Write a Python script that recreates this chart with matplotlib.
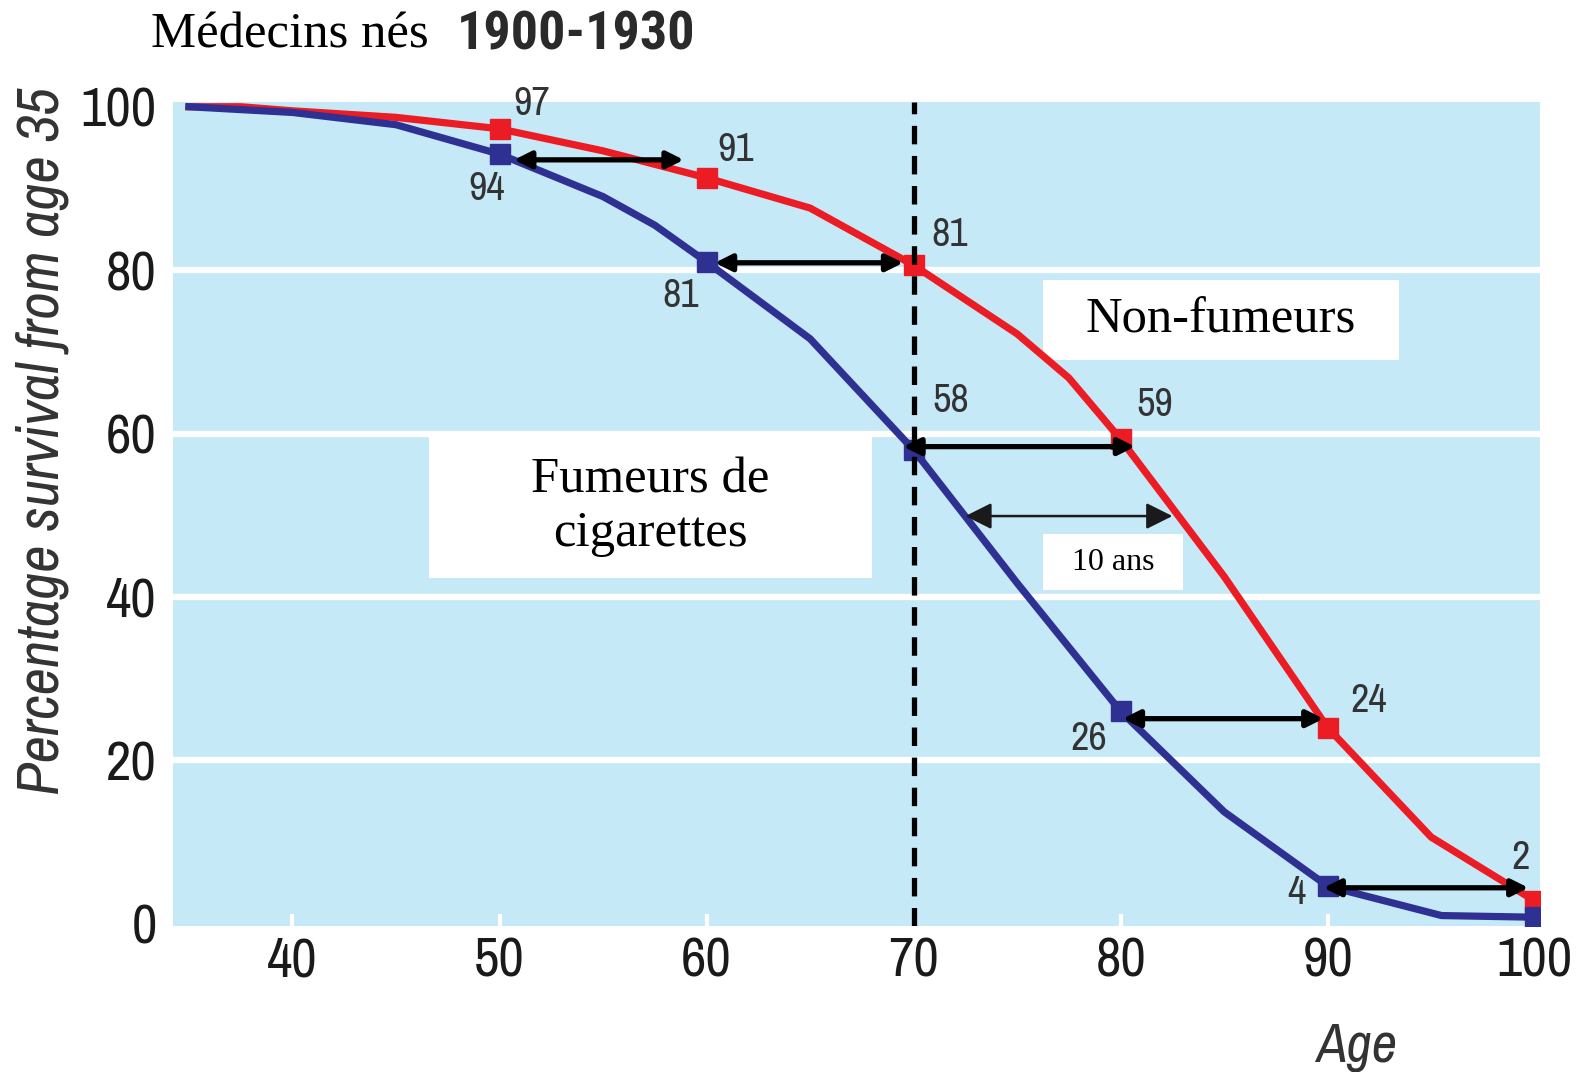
import matplotlib
matplotlib.use("Agg")
import matplotlib.pyplot as plt
from matplotlib.patches import Rectangle
from matplotlib import font_manager as fm

# ---- data ----
ages_nonsmokers = [35, 37.5, 40, 45, 50, 55, 60, 65, 70, 75, 77.5, 80, 85, 90, 95, 100]
surv_nonsmokers = [100, 100, 99.5, 98.7, 97.3, 94.6, 91.3, 87.6, 80.6, 72.2, 66.8, 59.3, 42.5, 24.0, 10.6, 2.8]
ages_smokers = [35, 40, 45, 50, 55, 57.5, 60, 65, 70, 75, 80, 85, 90, 95.5, 100]
surv_smokers = [100, 99.3, 97.8, 94.2, 89.0, 85.5, 81.0, 71.6, 58.0, 41.7, 26.0, 13.7, 4.6, 1.0, 0.8]

marker_ages = [50, 60, 70, 80, 90, 100]
marker_nonsmokers = [97.3, 91.3, 80.6, 59.3, 24.0, 2.8]
marker_smokers = [94.2, 81.0, 58.0, 26.0, 4.6, 0.8]

label_nonsmokers = ["97", "91", "81", "59", "24", "2"]
label_smokers = ["94", "81", "58", "26", "4", ""]

x_ticks = [40, 50, 60, 70, 80, 90, 100]
y_ticks = [0, 20, 40, 60, 80, 100]

# arrows (age_from, age_to, level)
arrows = [(50.7, 58.9, 93.5), (60.4, 69.5, 80.9), (69.5, 80.7, 58.4),
          (80.1, 89.8, 25.1), (89.8, 99.7, 4.4)]
arrow_10ans = (72.5, 82.5, 49.9)

RED = "#ec1c24"
BLUE = "#2e3192"
BG = "#c6e9f8"

ttf = fm.fontManager.ttflist
installed = {f.name for f in ttf}
narrow_candidates = ["Liberation Sans Narrow", "Archivo Narrow", "Roboto Condensed",
                     "PT Sans Narrow", "Pragati Narrow", "Fira Sans Condensed",
                     "IBM Plex Sans Condensed", "Liberation Sans"]
narrow = [n for n in narrow_candidates if n in installed] + ["DejaVu Sans"]
bold_ok = [n for n in narrow_candidates
           if any(f.name == n and isinstance(f.weight, int) and f.weight >= 600 for f in ttf)]
narrow_bold = bold_ok + ["DejaVu Sans"]
serif = ["Liberation Serif", "DejaVu Serif"]

fig = plt.figure(figsize=(15.81, 10.72), dpi=100)
ax = fig.add_axes([0.1097, 0.1364, 0.8643, 0.7686])
ax.set_facecolor(BG)
ax.set_xlim(34.25, 100.25)
ax.set_ylim(-0.25, 100.6)
for s in ax.spines.values():
    s.set_visible(False)

for yv in [20, 40, 60, 80]:
    ax.axhline(yv, color="white", lw=4.5, zorder=1)

ax.set_xticks(x_ticks)
ax.set_yticks(y_ticks)
ax.tick_params(axis="x", direction="in", length=9, width=3, color="white", pad=8)
ax.tick_params(axis="y", length=0, pad=12)
for lab in ax.get_xticklabels() + ax.get_yticklabels():
    lab.set_fontfamily(narrow)
    lab.set_fontsize(40)
    lab.set_color("#1a1a1a")

# boxes
boxes = [(76.24, 69.0, 17.19, 9.77), (46.58, 42.35, 21.42, 17.4), (76.24, 40.86, 6.77, 6.79)]
for (bx, by, bw, bh) in boxes:
    ax.add_patch(Rectangle((bx, by), bw, bh, facecolor="white", edgecolor="none", zorder=2))
ax.text(76.24 + 17.19 / 2, 69.0 + 9.77 / 2, "Non-fumeurs", ha="center", va="center",
        fontsize=36.5, family=serif, zorder=3)
ax.text(46.58 + 21.42 / 2, 42.35 + 17.4 / 2, "Fumeurs de\ncigarettes", ha="center", va="center",
        fontsize=36.5, family=serif, linespacing=1.2, zorder=3)
ax.text(76.24 + 6.77 / 2, 40.86 + 6.79 / 2, "10 ans", ha="center", va="center",
        fontsize=23, family=serif, zorder=3)

# curves
ax.plot(ages_nonsmokers, surv_nonsmokers, color=RED, lw=5.2, zorder=4, solid_joinstyle="round")
ax.plot(ages_smokers, surv_smokers, color=BLUE, lw=5.2, zorder=4, solid_joinstyle="round")
ax.plot(marker_ages, marker_nonsmokers, "s", color=RED, ms=15, zorder=5)
ax.plot(marker_ages, marker_smokers, "s", color=BLUE, ms=15, zorder=5)

# dashed line at 70
ax.axvline(70, color="black", lw=3.8, ls=(0, (3.5, 2.2)), zorder=6)

# arrows
for (a0, a1, lv) in arrows:
    ax.annotate("", xy=(a1, lv), xytext=(a0, lv),
                arrowprops=dict(arrowstyle="<|-|>,head_length=1.0,head_width=0.5",
                                color="black", lw=3.8, shrinkA=0, shrinkB=0), zorder=7)
a0, a1, lv = arrow_10ans
ax.annotate("", xy=(a1, lv), xytext=(a0, lv),
            arrowprops=dict(arrowstyle="<|-|>,head_length=1.6,head_width=0.8",
                            color="#1a1a1a", lw=1.8, shrinkA=0, shrinkB=0), zorder=7)

# value labels
pos_non = [(51.54, 100.4), (61.43, 94.8), (71.76, 84.4), (81.65, 63.5), (91.97, 27.3), (99.3, 8.1)]
pos_smk = [(49.4, 90.0), (58.75, 76.9), (71.8, 64.0), (78.48, 22.7), (88.5, 3.8), (0, 0)]
for (px, py), t in zip(pos_non, label_nonsmokers):
    ax.text(px, py, t, ha="center", va="center", fontsize=29, family=narrow, color="#333333", zorder=8)
for (px, py), t in zip(pos_smk, label_smokers):
    if t:
        ax.text(px, py, t, ha="center", va="center", fontsize=29, family=narrow, color="#333333", zorder=8)

# titles and axis labels
fig.text(0.0957, 0.967, "Médecins nés", ha="left", va="center", fontsize=36.5, family=serif)
fig.text(0.289, 0.967, "1900-1930", ha="left", va="center", fontsize=39, family=narrow_bold,
         fontweight="bold", color="#2a2a2a")
fig.text(0.027, 0.589, "Percentage survival from age 35", rotation=90, ha="center", va="center",
         fontsize=43, family=narrow, style="italic", color="#333333")
fig.text(0.858, 0.0235, "Age", ha="center", va="center", fontsize=40, family=narrow,
         style="italic", color="#333333")

fig.savefig("out.png", dpi=100, facecolor="white")
